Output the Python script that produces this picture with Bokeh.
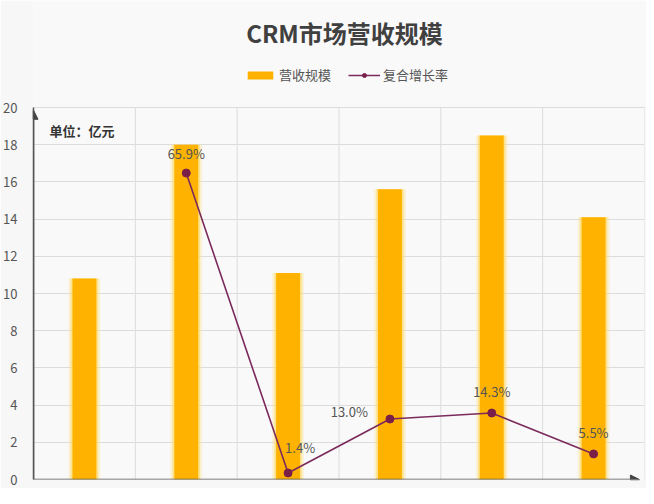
from bokeh.plotting import figure
from bokeh.models import (Range1d, Label, Legend, LegendItem, Arrow, NormalHead,
                          ColumnDataSource, FixedTicker)
from bokeh.embed import file_html
from bokeh.resources import INLINE

# ---- data ----
categories = ["1", "2", "3", "4", "5", "6"]
revenue = [10.8, 18.0, 11.1, 15.6, 18.5, 14.1]          # 营收规模 (亿元)
growth_cats = ["2", "3", "4", "5", "6"]
growth = [65.9, 1.4, 13.0, 14.3, 5.5]                    # 复合增长率 (%)
growth_labels = ["65.9%", "1.4%", "13.0%", "14.3%", "5.5%"]
y_ticks = [0, 2, 4, 6, 8, 10, 12, 14, 16, 18, 20]
Y_MAX = 20
RATE_MAX = 80

FONT = "Noto Sans CJK SC"
BAR = "#FFB300"
LINE = "#7B2A5C"
DOT = "#7A1F48"

xs = [i + 0.5 for i in range(len(categories))]
gx = [categories.index(c) + 0.5 for c in growth_cats]
col_edges = [i + 1 for i in range(len(categories))]

# frame: top of canvas to y=20 leaves room for title and legend inside the frame
FRAME_H = 479
PX_PER_20 = 372
y_top = Y_MAX * FRAME_H / PX_PER_20

p = figure(width=646, height=488, output_backend="svg", toolbar_location=None,
           x_range=Range1d(0, len(categories)), y_range=Range1d(0, y_top),
           min_border_left=31, min_border_right=2, min_border_top=0, min_border_bottom=9,
           border_fill_color="#f7f7f7", background_fill_color="#f9f9f9",
           outline_line_color=None, title=None)
p.extra_y_ranges = {"rate": Range1d(0, RATE_MAX * y_top / Y_MAX)}

p.xaxis.visible = False
p.yaxis.ticker = FixedTicker(ticks=y_ticks)
p.yaxis.bounds = (0, Y_MAX)
p.yaxis.axis_line_color = "#555555"
p.yaxis.axis_line_width = 1.5
p.yaxis.major_tick_line_color = None
p.yaxis.minor_tick_line_color = None
p.yaxis.major_label_text_font = FONT
p.yaxis.major_label_text_font_size = "13px"
p.yaxis.major_label_text_color = "#555555"
p.yaxis.major_label_standoff = 10

p.ygrid.ticker = FixedTicker(ticks=y_ticks)
p.ygrid.grid_line_color = "#dcdcdc"
p.xgrid.visible = False
p.segment(x0=col_edges, y0=[0] * len(col_edges), x1=col_edges, y1=[Y_MAX] * len(col_edges),
          line_color="#dcdcdc", line_width=1)

src = ColumnDataSource(dict(x=xs, top=revenue))
# glow
p.vbar(x="x", top="top", width=0.31, bottom=0, source=src, fill_color="#FFE082",
       fill_alpha=0.35, line_color=None)
p.vbar(x="x", top="top", width=0.27, bottom=0, source=src, fill_color="#FFD54F",
       fill_alpha=0.5, line_color=None)
bars = p.vbar(x="x", top="top", width=0.235, bottom=0, source=src, fill_color=BAR,
              line_color=None)

gsrc = ColumnDataSource(dict(x=gx, y=growth, lab=growth_labels))
ln = p.line("x", "y", source=gsrc, line_color=LINE, line_width=1.6, y_range_name="rate")
dots = p.scatter("x", "y", source=gsrc, size=8, fill_color=DOT, line_color=DOT,
                 y_range_name="rate")

# value labels
offsets_x = [0, -3, -22, 0, 0]
offsets_y = [20, 25, 8, 22, 21]
aligns = ["center", "left", "right", "center", "center"]
for x, y, lab, ox, oy, al in zip(gx, growth, growth_labels, offsets_x, offsets_y, aligns):
    p.add_layout(Label(x=x, y=y, y_range_name="rate", text=lab, x_offset=ox, y_offset=oy,
                       text_font=FONT, text_font_size="13px", text_color="#555555",
                       text_align=al, text_baseline="middle"))

# axis arrows
p.add_layout(Arrow(end=NormalHead(size=9, fill_color="#444444", line_color="#444444"),
                   x_start=0, y_start=0, x_end=0, y_end=19.85,
                   line_color="#555555", line_width=1.5))
p.add_layout(Arrow(end=NormalHead(size=9, fill_color="#444444", line_color="#444444"),
                   x_start=0, y_start=0, x_end=5.95, y_end=0,
                   line_color="#555555", line_width=1.5))

# unit label
p.add_layout(Label(x=16, y=349, x_units="screen", y_units="screen", text="单位：亿元",
                   text_font=FONT, text_font_size="13px", text_font_style="bold",
                   text_color="#333333", text_baseline="middle"))

# title
p.add_layout(Label(x=311, y=447, x_units="screen", y_units="screen", text="CRM市场营收规模",
                   text_font=FONT, text_font_size="24px", text_font_style="bold",
                   text_color="#404040", text_align="center", text_baseline="middle"))

legend = Legend(items=[LegendItem(label="营收规模", renderers=[bars]),
                       LegendItem(label="复合增长率", renderers=[ln, dots])],
                orientation="horizontal", location=(211, 395),
                label_text_font=FONT, label_text_font_size="13px",
                label_text_color="#555555", background_fill_alpha=0,
                border_line_color=None, glyph_width=32, glyph_height=10,
                spacing=17, label_standoff=3, padding=0, margin=0)
p.add_layout(legend, "center")

open("out.html", "w").write(file_html(p, INLINE))
